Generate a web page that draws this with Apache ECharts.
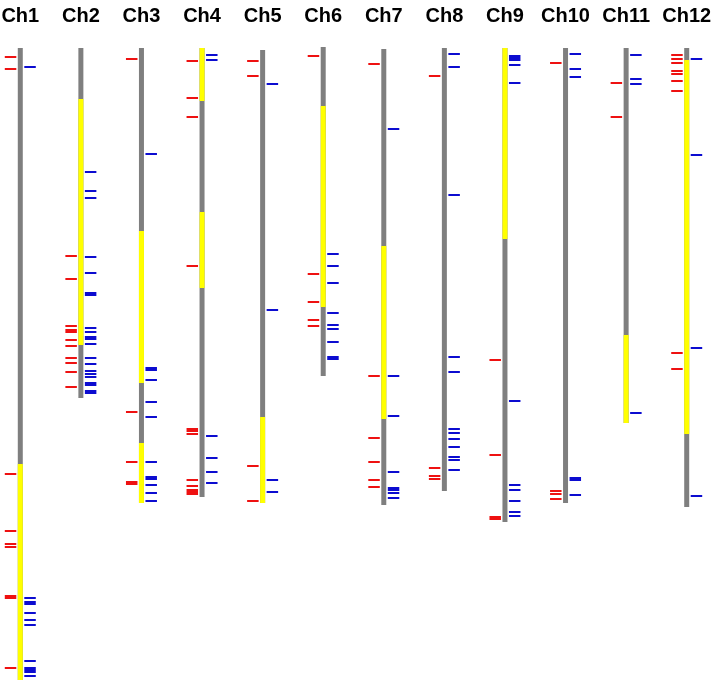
<!DOCTYPE html>
<html>
<head>
<meta charset="utf-8">
<script src="https://cdn.jsdelivr.net/npm/echarts@6/dist/echarts.min.js"></script>
<style>
html,body{margin:0;padding:0;background:#fff;}
#main{width:722px;height:685px;}
</style>
</head>
<body>
<div id="main"></div>
<script>
// Chromosome names
const chromosomes = ['Ch1','Ch2','Ch3','Ch4','Ch5','Ch6','Ch7','Ch8','Ch9','Ch10','Ch11','Ch12'];
// Map positions (map units, top = 0)
const chromStart = [0, 0, 0, 0, 2, -1, 1, 0, 0, 0, 0, 0];
const chromEnd   = [632, 350, 455, 449, 455, 328, 457, 443, 474, 455, 375, 459];
// Highlighted (yellow) segments: [chromosome index, start, end]
const yellowSegments = [
  [0, 416, 632],
  [1, 51, 297],
  [2, 183, 335], [2, 395, 455],
  [3, 0, 53], [3, 164, 240],
  [4, 369, 455],
  [5, 58, 259],
  [6, 198, 371],
  [8, 0, 191],
  [10, 287, 375],
  [11, 12, 386]
];
// Red markers (left side), per chromosome
const redMarkers = [
  [9, 21, 426, 483, 496, 499, 548, 550, 620],
  [208, 231, 278, 282, 284, 292, 298, 310, 315, 324, 339],
  [11, 364, 414, 434, 436],
  [13, 50, 69, 218, 381, 383, 386, 432, 438, 442, 444, 446],
  [13, 28, 418, 453],
  [8, 226, 254, 272, 278],
  [16, 328, 390, 414, 432, 439],
  [28, 420, 428, 431],
  [312, 407, 469, 471],
  [15, 443, 446, 451],
  [35, 69],
  [7, 11, 15, 23, 26, 33, 43, 305, 321]
];
// Blue markers (right side), per chromosome
const blueMarkers = [
  [19, 550, 554, 556, 565, 572, 577, 613, 620, 622, 624, 628],
  [124, 143, 150, 209, 225, 245, 247, 280, 284, 289, 291, 296, 310, 316, 323, 326, 329, 335, 337, 343, 345],
  [106, 320, 322, 332, 354, 369, 414, 429, 431, 437, 445, 453],
  [7, 12, 388, 410, 424, 435],
  [36, 262, 432, 444],
  [206, 218, 235, 265, 277, 281, 294, 309, 311],
  [81, 328, 368, 424, 440, 442, 445, 450],
  [6, 19, 147, 309, 324, 381, 385, 391, 399, 409, 412, 422],
  [8, 10, 12, 17, 35, 353, 437, 442, 453, 464, 468],
  [6, 21, 29, 430, 432, 447],
  [7, 31, 36, 365],
  [11, 107, 300, 448]
];

const GRAY = '#7f7f7f', YELLOW = '#ffff00', RED = '#ee1111', BLUE = '#0c0cd0';

const bodyData = chromosomes.map((c, i) => [i, chromStart[i], chromEnd[i]]);
const redData = [];
redMarkers.forEach((arr, i) => arr.forEach(v => redData.push([i, v])));
const blueData = [];
blueMarkers.forEach((arr, i) => arr.forEach(v => blueData.push([i, v])));

function segRender(color) {
  return function (params, api) {
    const p0 = api.coord([api.value(0), api.value(1)]);
    const p1 = api.coord([api.value(0), api.value(2)]);
    return {
      type: 'rect',
      shape: { x: p0[0] - 2.5, y: p0[1], width: 5, height: p1[1] - p0[1] },
      style: { fill: color }
    };
  };
}
function tickRender(color, side) {
  return function (params, api) {
    const p = api.coord([api.value(0), api.value(1)]);
    const x0 = side < 0 ? p[0] - 15.5 : p[0] + 4;
    return {
      type: 'rect',
      shape: { x: x0, y: p[1] - 1, width: 11.5, height: 2 },
      style: { fill: color }
    };
  };
}

const chart = echarts.init(document.getElementById('main'), null, { renderer: 'canvas' });
chart.setOption({
  animation: false,
  backgroundColor: '#ffffff',
  grid: { left: -10, right: 5, top: 48, bottom: 0, containLabel: false, outerBoundsMode: 'none' },
  xAxis: {
    type: 'category',
    data: chromosomes,
    position: 'top',
    axisLine: { show: false },
    axisTick: { show: false },
    splitLine: { show: false },
    axisLabel: {
      interval: 0,
      margin: 22,
      fontFamily: 'Liberation Sans, Arial, sans-serif',
      fontWeight: 'bold',
      fontSize: 20,
      color: '#000'
    }
  },
  yAxis: {
    type: 'value',
    min: 0,
    max: 637,
    inverse: true,
    show: false,
    splitLine: { show: false }
  },
  series: [
    { type: 'custom', name: 'chromosome', data: bodyData, renderItem: segRender(GRAY), clip: false,
      encode: { x: 0, y: [1, 2] } },
    { type: 'custom', name: 'segment', data: yellowSegments, renderItem: segRender(YELLOW), clip: false,
      encode: { x: 0, y: [1, 2] } },
    { type: 'custom', name: 'red', data: redData, renderItem: tickRender(RED, -1), clip: false,
      encode: { x: 0, y: 1 } },
    { type: 'custom', name: 'blue', data: blueData, renderItem: tickRender(BLUE, 1), clip: false,
      encode: { x: 0, y: 1 } }
  ]
});
</script>
</body>
</html>
